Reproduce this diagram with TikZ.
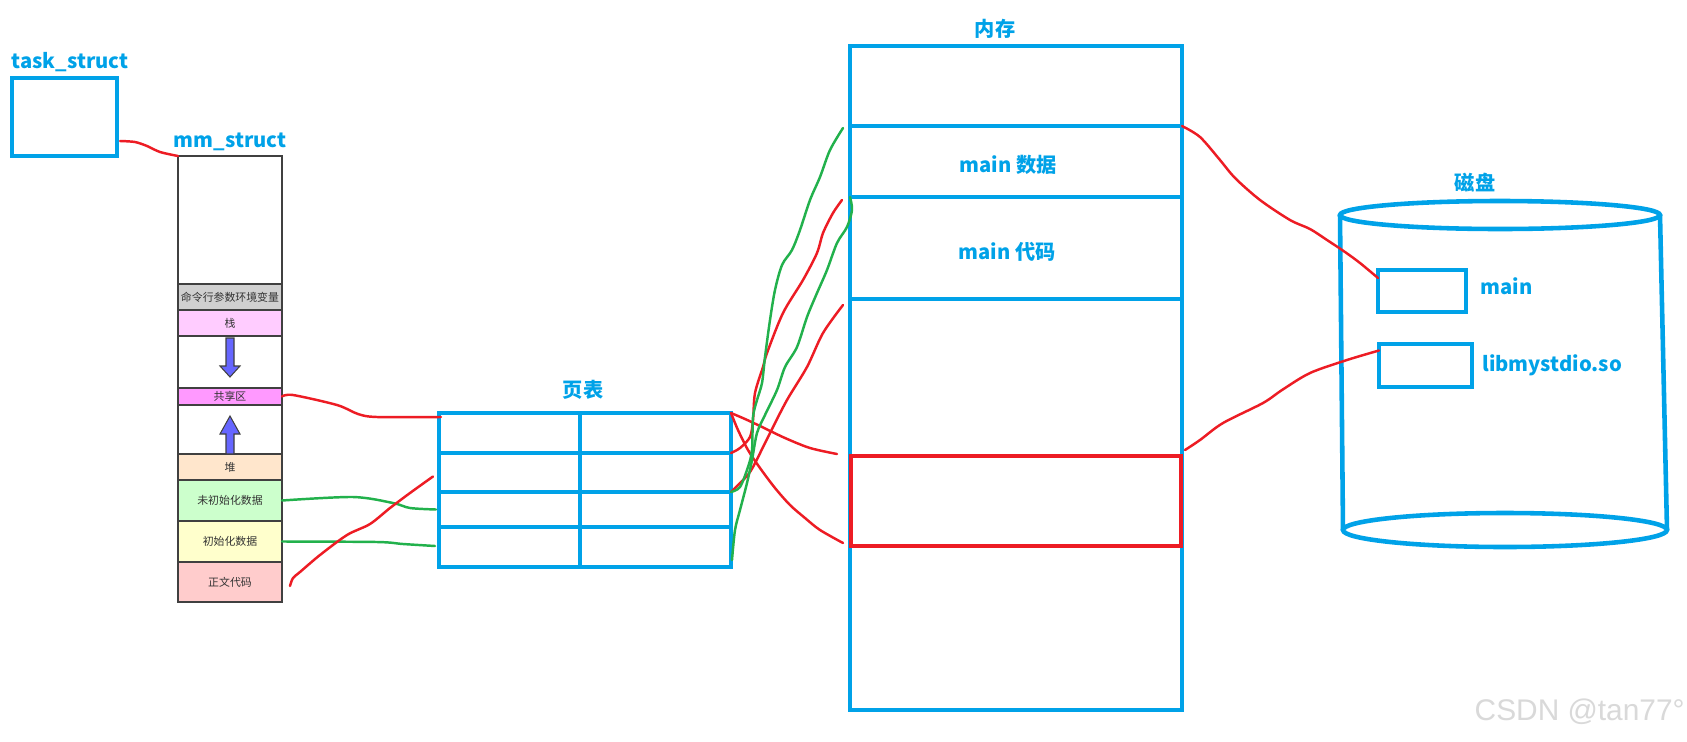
\documentclass[tikz,border=0pt]{standalone}
\usepackage{fontspec}
\setmainfont{Noto Sans CJK SC}
\newfontfamily\wmfont{Liberation Sans}
\usetikzlibrary{positioning,calc}

\definecolor{pblue}{RGB}{0,162,232}
\definecolor{pred}{RGB}{237,28,36}
\definecolor{pgreen}{RGB}{34,177,76}
\definecolor{segline}{RGB}{64,64,64}
\definecolor{segtext}{RGB}{51,51,51}
\definecolor{envgray}{RGB}{208,208,208}
\definecolor{stackpink}{RGB}{255,204,255}
\definecolor{sharedpink}{RGB}{255,153,255}
\definecolor{heappeach}{RGB}{255,230,204}
\definecolor{bssgreen}{RGB}{204,255,204}
\definecolor{datayellow}{RGB}{255,255,204}
\definecolor{textred}{RGB}{255,204,204}
\definecolor{arrowfill}{RGB}{102,102,255}

\newcommand{\px}{0.02cm}

\tikzset{
    box/.style={draw=pblue, line width=2.6pt, inner sep=0pt, outer sep=0pt},
    seg/.style={draw=segline, line width=1pt, inner sep=0pt, outer sep=0pt,
        minimum width=104*\px, text=segtext, font=\fontsize{6.2}{7}\selectfont},
    lbl/.style={text=pblue, font=\bfseries\fontsize{11.5}{13}\selectfont, inner sep=0pt},
    redline/.style={pred, line width=1.4pt, line cap=round, line join=round},
    greenline/.style={pgreen, line width=1.4pt, line cap=round, line join=round},
    growarrow/.style={fill=arrowfill, draw=segline, line width=0.6pt}
}

\begin{document}
\begin{tikzpicture}[x=\px, y=-\px]
    \fill[white] (0,0) rectangle (1687,741);
    \useasboundingbox (0,0) rectangle (1687,741);

    % task_struct
    \node[lbl] (tslbl) at (70,62) {task\_struct};
    \node[box, anchor=north west, minimum width=105*\px, minimum height=78*\px] (ts) at (12,78) {};

    % mm_struct
    \node[lbl] (mmlbl) at (230,142) {mm\_struct};
    \node[seg, anchor=north west, minimum height=128*\px] (mmtop) at (178,156) {};
    \node[seg, fill=envgray, minimum height=26*\px, below=0pt of mmtop] (env) {命令行参数环境变量};
    \node[seg, fill=stackpink, minimum height=26*\px, below=0pt of env] (stack) {栈};
    \node[seg, minimum height=52*\px, below=0pt of stack] (gapdown) {};
    \node[seg, fill=sharedpink, minimum height=17*\px, below=0pt of gapdown] (shared) {共享区};
    \node[seg, minimum height=49*\px, below=0pt of shared] (gapup) {};
    \node[seg, fill=heappeach, minimum height=26*\px, below=0pt of gapup] (heap) {堆};
    \node[seg, fill=bssgreen, minimum height=41*\px, below=0pt of heap] (bss) {未初始化数据};
    \node[seg, fill=datayellow, minimum height=41*\px, below=0pt of bss] (data) {初始化数据};
    \node[seg, fill=textred, minimum height=40*\px, below=0pt of data] (text) {正文代码};
    % stack and heap growth
    \filldraw[growarrow] (226,338) -- (234,338) -- (234,366) -- (240,366)
        -- (230,377) -- (220,366) -- (226,366) -- cycle;
    \filldraw[growarrow] (226,454) -- (234,454) -- (234,434) -- (240,434)
        -- (230,416) -- (220,434) -- (226,434) -- cycle;

    % page table
    \node[lbl] (ptlbl) at (583,390) {页表};
    \node[box, anchor=north west, minimum width=292*\px, minimum height=40*\px] (row1) at (439,413) {};
    \node[box, minimum width=292*\px, minimum height=39*\px, below=0pt of row1] (row2) {};
    \node[box, minimum width=292*\px, minimum height=35*\px, below=0pt of row2] (row3) {};
    \node[box, minimum width=292*\px, minimum height=40*\px, below=0pt of row3] (row4) {};
    \draw[box] ($(row1.north west)!0.483!(row1.north east)$) -- ($(row4.south west)!0.483!(row4.south east)$);

    % memory
    \node[lbl] (memlbl) at (995,29) {内存};
    \node[box, anchor=north west, minimum width=332*\px, minimum height=664*\px] (mem) at (850,46) {};
    \node[box, anchor=north west, minimum width=332*\px, minimum height=71*\px] (mdata) at (850,126) {};
    \node[box, minimum width=332*\px, minimum height=102*\px, below=0pt of mdata] (mcode) {};
    \node[lbl] (datalbl) at (1008,165) {main 数据};
    \node[lbl] (codelbl) at (1007,252) {main 代码};
    \node[draw=pred, line width=2.6pt, inner sep=0pt, outer sep=0pt, anchor=north west,
        minimum width=330*\px, minimum height=90*\px] (redbox) at (851,456) {};

    % disk
    \node[lbl] (disklbl) at (1475,183) {磁盘};
    \draw[box] (1340,215) -- (1343,530);
    \draw[box] (1660,215) -- (1667,530);
    \draw[box] (1500,215) ellipse [x radius=160, y radius=14];
    \draw[box] (1505,530) ellipse [x radius=162, y radius=17];
    \node[box, line width=2.2pt, anchor=north west, minimum width=88*\px, minimum height=42*\px] (dmain) at (1378,270) {};
    \node[lbl, anchor=west] (dmainlbl) at (1480,286) {main};
    \node[box, line width=2.2pt, anchor=north west, minimum width=93*\px, minimum height=43*\px] (dlib) at (1379,344) {};
    \node[lbl, anchor=west] (dliblbl) at (1482,365) {libmystdio.so};

    % connector ends
    \coordinate (ts-out) at ($(ts.south east)+(3,-15)$);
    \coordinate (pt-in1) at ($(row1.north west)+(2,4)$);
    \coordinate (pt-in2) at ($(row2.west)+(-6,4)$);
    \coordinate (pt-in3) at ($(row3.west)+(-3,0)$);
    \coordinate (pt-in4) at ($(row4.west)+(-4,-1)$);
    \coordinate (txt-out) at ($(text.east)+(8,4)$);
    \coordinate (pt-out4) at ($(row4.south east)+(1,-7)$);
    \coordinate (rb-in1) at ($(redbox.north west)+(-14,-2)$);
    \coordinate (rb-in2) at ($(redbox.south west)+(-8,-3)$);
    \coordinate (rb-out) at ($(redbox.north east)+(4,-6)$);
    \coordinate (code-in) at ($(mcode.north west)+(-8,3)$);
    \coordinate (gap-in) at ($(mcode.south west)+(-7,6)$);
    \coordinate (data-in) at ($(mdata.north west)+(-7,2)$);
    \coordinate (dmain-in) at ($(dmain.north west)+(0,8)$);
    \coordinate (dlib-in) at ($(dlib.west)+(0,-15)$);

    % left side links
    \draw[redline] plot[smooth] coordinates {(ts-out) (135,142) (147,146) (160,152) (mmtop.north west)};
    \draw[redline] plot[smooth] coordinates {(shared.east) (293,395) (337,405) (358,414) (377,417) (pt-in1)};
    \draw[greenline] plot[smooth] coordinates {(bss.east) (353,497) (393,503) (410,508) (pt-in3)};
    \draw[greenline] plot[smooth] coordinates {(data.east) (377,542) (403,544) (pt-in4)};
    \draw[redline] plot[smooth] coordinates {(txt-out) (293,578) (300,572) (320,555) (347,535)
        (370,524) (390,508) (410,493) (pt-in2)};

    % page table -> memory
    \draw[redline] plot[smooth] coordinates {(row1.north east) (745,419) (760,426) (785,438) (810,448) (rb-in1)};
    \draw[redline] plot[smooth] coordinates {(row1.north east) (738,430) (748,450) (760,468) (775,488)
        (790,505) (805,518) (820,530) (rb-in2)};
    \draw[redline] plot[smooth] coordinates {(row1.south east) (740,448) (750,437) (753,420) (755,393)
        (763,367) (767,353) (783,313) (803,280) (817,253) (823,233) (833,213) (code-in)};
    \draw[redline] plot[smooth] coordinates {(row3.north east) (745,478) (753,467) (770,433) (787,400)
        (807,367) (823,333) (gap-in)};
    \draw[greenline] plot[smooth] coordinates {(row3.north east) (740,487) (748,467) (752,450) (753,417)
        (757,400) (762,383) (765,357) (770,320) (775,290) (782,265) (792,250) (800,230) (810,200)
        (820,177) (830,150) (data-in)};
    \draw[greenline] plot[smooth] coordinates {(pt-out4) (735,530) (740,510) (747,483) (752,460)
        (757,433) (765,415) (777,390) (785,367) (797,347) (807,317) (817,293) (827,270) (837,243)
        (847,227) (852,210) (mcode.north west)};

    % memory -> disk
    \draw[redline] plot[smooth] coordinates {(mdata.north east) (1200,137) (1220,160) (1235,178)
        (1260,200) (1290,220) (1310,229) (1327,240) (1345,252) (1360,263) (dmain-in)};
    \draw[redline] plot[smooth] coordinates {(rb-out) (1200,440) (1223,423) (1263,403) (1282,390)
        (1310,373) (1347,360) (dlib-in)};

    % watermark
    \node[text=black!15, font=\wmfont\fontsize{17}{20}\selectfont, anchor=east, inner sep=0pt] (wm) at (1685,712) {CSDN @tan77°};
\end{tikzpicture}
\end{document}
